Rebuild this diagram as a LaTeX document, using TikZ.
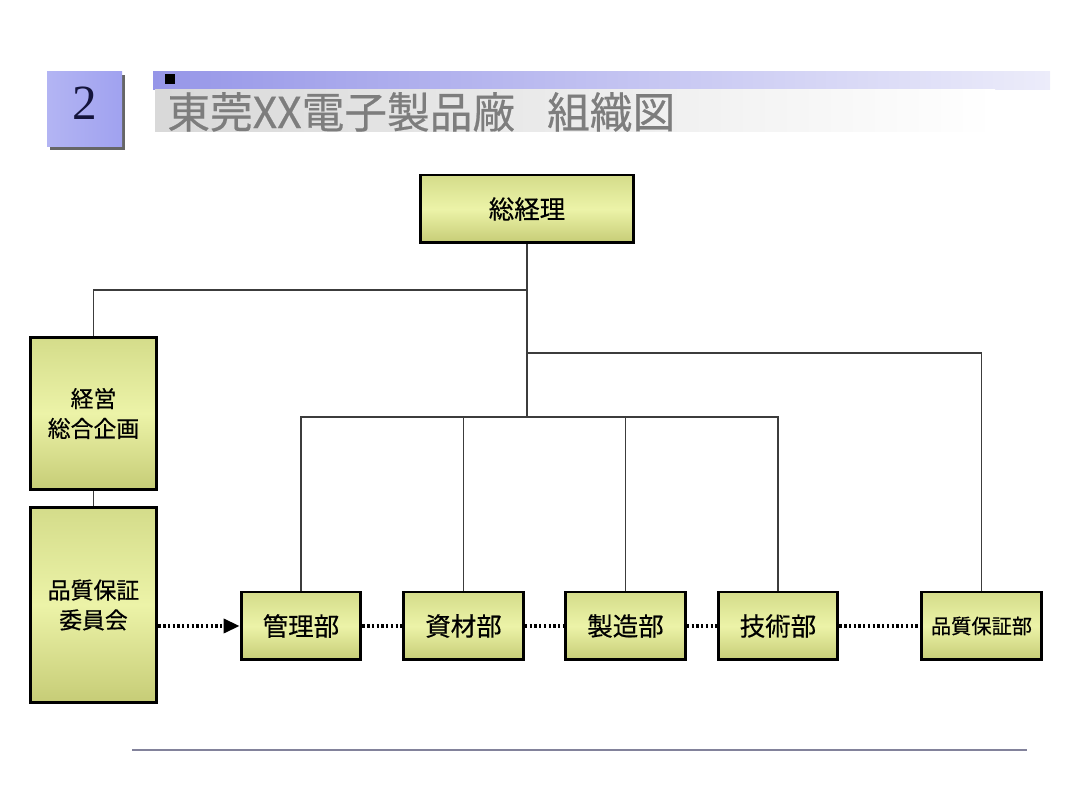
\documentclass[tikz,border=0pt]{standalone}
\usepackage{fontspec}
\newfontfamily\jp{Noto Sans CJK JP}[FakeBold=0.5]
\newfontfamily\numfont{Liberation Serif}
\usetikzlibrary{arrows.meta}
\definecolor{boxtop}{RGB}{212,220,138}
\definecolor{boxmid}{RGB}{236,243,168}
\definecolor{boxbot}{RGB}{198,204,118}
\definecolor{conn}{RGB}{60,60,60}
\definecolor{lavA}{RGB}{150,150,232}
\definecolor{lavB}{RGB}{236,236,250}
\definecolor{numfill}{RGB}{160,162,240}
\definecolor{numtext}{RGB}{20,20,60}
\definecolor{titlegrey}{RGB}{125,125,125}
\definecolor{rulecol}{RGB}{130,130,155}
\tikzset{
  orgbox/.style={draw=black, line width=1.7pt, top color=boxtop, bottom color=boxbot, middle color=boxmid,
    inner sep=0pt, align=center, font=\jp\fontsize{14.5}{18}\selectfont},
  link/.style={draw=conn, line width=0.6pt},
  dotlink/.style={draw=black, line width=1.8pt, dash pattern=on 1.3pt off 1.4pt},
}
\begin{document}
\begin{tikzpicture}[x=0.02cm, y=-0.02cm]
\useasboundingbox (0,0) rectangle (1080,810);
% header
\fill[black!60] (50,75) rectangle (125,150);
\shade[left color=numfill!80, right color=numfill] (47,72) rectangle (122,147);
\node[font=\numfont\fontsize{28}{30}\selectfont, text=numtext] (num) at (84.5,103) {2};
\shade[left color=lavA, right color=lavB] (153,72) rectangle (1050,90);
\fill[black] (165,74) rectangle (175,84);
\shade[left color=black!15, right color=white] (155,90) rectangle (995,132);
\node[anchor=west, font=\jp\fontsize{24.3}{27}\selectfont, text=titlegrey, inner sep=0pt] (title) at (167,112) {東莞XX電子製品廠\hspace{0.75em}組織図};
% boxes
\node[orgbox, minimum width=4.28cm, minimum height=1.36cm] (gm) at (527,209) {総経理};
\node[orgbox, minimum width=2.54cm, minimum height=3.06cm, font=\jp\fontsize{13}{17}\selectfont] (keiei) at (93.5,413.5) {経営\\総合企画};
\node[orgbox, minimum width=2.54cm, minimum height=3.92cm, font=\jp\fontsize{13}{17}\selectfont] (iinkai) at (93.5,605) {品質保証\\委員会};
\node[orgbox, minimum width=2.4cm, minimum height=1.36cm] (kanri) at (301,626) {管理部};
\node[orgbox, minimum width=2.4cm, minimum height=1.36cm] (shizai) at (463.5,626) {資材部};
\node[orgbox, minimum width=2.4cm, minimum height=1.36cm] (seizo) at (625.5,626) {製造部};
\node[orgbox, minimum width=2.4cm, minimum height=1.36cm] (gijutsu) at (778,626) {技術部};
\node[orgbox, minimum width=2.4cm, minimum height=1.36cm, font=\jp\fontsize{11.5}{14}\selectfont] (hinsho) at (981.5,626) {品質保証部};
% junction coordinates
\coordinate (yA) at (0,290);
\coordinate (yB) at (0,353);
\coordinate (yC) at (0,417);
% connectors
\draw[link] (gm.south) -- (gm.south |- yC);
\draw[link] (gm.south |- yA) -| (keiei.north);
\draw[link] (keiei.south) -- (iinkai.north);
\draw[link] (gm.south |- yB) -| (hinsho.north);
\draw[link] (kanri.north) -- (kanri.north |- yC) -- (gijutsu.north |- yC) -- (gijutsu.north);
\draw[link] (shizai.north) -- (shizai.north |- yC);
\draw[link] (seizo.north) -- (seizo.north |- yC);
% dotted links
\draw[dotlink, -{Triangle[length=9pt,width=8pt]}] (iinkai.east |- kanri) -- (kanri.west);
\draw[dotlink] (kanri.east) -- (shizai.west);
\draw[dotlink] (shizai.east) -- (seizo.west);
\draw[dotlink] (seizo.east) -- (gijutsu.west);
\draw[dotlink] (gijutsu.east) -- (hinsho.west);
% footer rule
\draw[rulecol, line width=0.8pt] (132,750) -- (1027,750);
\end{tikzpicture}
\end{document}
